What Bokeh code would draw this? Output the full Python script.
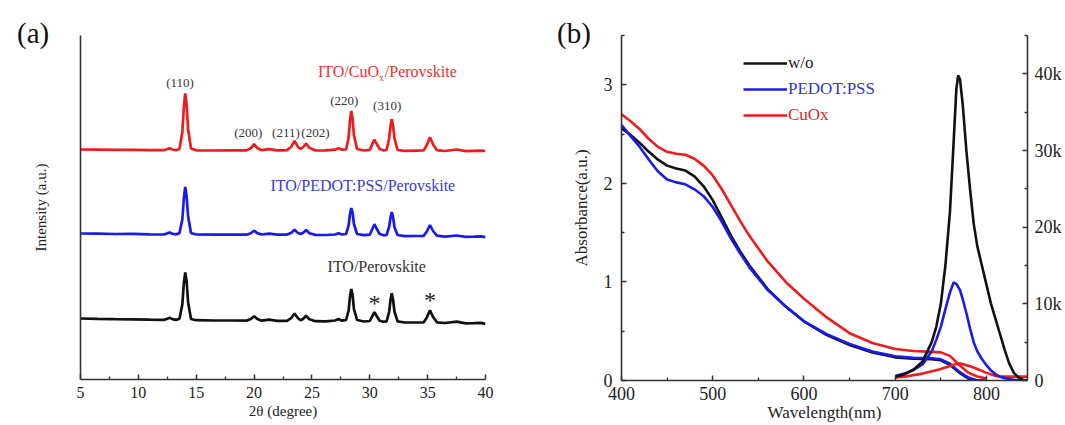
from bokeh.plotting import figure
from bokeh.models import Range1d, LinearAxis, FixedTicker, Label, Legend, LegendItem, Div
from bokeh.layouts import row
from bokeh.embed import file_html
from bokeh.resources import INLINE
from bokeh.core.properties import value

SERIF = "Liberation Serif"

# ---------------- (a) XRD data ----------------
two_theta = [5, 6.5, 8, 9.5, 11, 12.2, 12.45, 12.7, 12.95, 13.25,
             13.55, 13.8, 13.93, 14.05, 14.17, 14.3, 14.55,
             15.0, 16.5, 18, 19.35, 19.72, 20.0, 20.28, 20.65, 21.3, 22.0, 22.85,
             23.2, 23.5, 23.78, 24.02, 24.25, 24.5, 24.78, 25.3, 26.2, 27.0, 27.3, 27.6,
             27.95, 28.17, 28.29, 28.4, 28.51, 28.63, 28.9,
             29.5, 30.0, 30.22, 30.4, 30.58, 30.85, 31.2,
             31.45, 31.67, 31.79, 31.9, 32.01, 32.13, 32.4,
             33.0, 34.0, 34.65, 34.93, 35.2, 35.47, 35.8, 36.5, 37.5, 38.3, 39.0, 39.6, 40.0]

xrd_cuox = [230.0, 229.8, 229.6, 229.7, 229.4, 229.3, 230.2, 231.3, 230.0, 229.3,
            230.5, 247.0, 272.0, 286.0, 275.0, 250.0, 231.0,
            229.2, 229.0, 229.2, 229.1, 231.3, 235.3, 231.5, 229.3, 230.3, 229.2, 229.4,
            232.5, 238.5, 232.8, 230.5, 232.5, 236.0, 231.8, 229.0, 229.2, 229.8, 231.2, 229.8,
            230.0, 242.0, 259.0, 268.5, 261.0, 244.0, 230.5,
            229.0, 229.6, 235.5, 240.0, 236.0, 230.5, 229.0,
            229.5, 241.0, 253.5, 260.5, 254.0, 241.5, 229.5,
            228.7, 228.9, 229.0, 234.5, 242.3, 235.0, 229.3, 228.5, 230.0, 228.4, 228.7, 228.9, 228.5]

xrd_pedot = [146.0, 145.8, 145.5, 145.6, 145.2, 145.0, 145.9, 147.0, 145.8, 145.1,
             146.2, 160.0, 181.0, 192.5, 183.0, 163.0, 146.5,
             145.0, 144.8, 144.9, 144.8, 146.3, 148.8, 146.4, 145.0, 145.8, 144.8, 144.9,
             146.5, 149.8, 146.6, 145.5, 146.8, 149.5, 146.2, 144.6, 144.5, 145.0, 146.2, 145.0,
             145.5, 154.0, 165.5, 171.5, 167.0, 155.5, 145.5,
             144.3, 144.8, 150.5, 155.3, 151.0, 145.5, 144.2,
             144.5, 152.5, 162.0, 167.5, 162.5, 152.5, 144.5,
             143.3, 143.5, 143.6, 148.0, 154.5, 148.5, 143.8, 142.9, 144.0, 142.6, 142.8, 143.2, 142.3]

xrd_ref = [61.0, 60.6, 60.3, 60.1, 59.8, 59.6, 60.5, 61.8, 60.4, 59.6,
           60.8, 75.0, 96.0, 107.0, 98.5, 77.0, 60.5,
           59.3, 59.0, 59.0, 58.8, 60.5, 63.3, 60.6, 58.8, 59.8, 58.6, 58.7,
           61.3, 66.0, 61.5, 59.3, 60.8, 63.8, 60.2, 58.3, 58.2, 59.0, 60.4, 58.8,
           59.5, 69.0, 83.0, 90.5, 85.0, 70.5, 59.5,
           58.0, 58.5, 63.5, 67.3, 63.8, 58.8, 57.8,
           58.0, 67.5, 79.5, 86.3, 80.0, 68.0, 58.2,
           57.0, 57.0, 57.0, 62.0, 69.3, 62.5, 57.2, 56.5, 57.8, 56.2, 56.3, 56.6, 55.6]

hkl_labels = ["(110)", "(200)", "(211)", "(202)", "(220)", "(310)"]
hkl_x = [13.6, 19.5, 22.75, 25.3, 27.8, 31.5]
hkl_y = [297, 247, 247, 247, 279, 274]
impurity_x = [30.4, 35.2]
impurity_y = [77, 80]
xtick_a = [5, 10, 15, 20, 25, 30, 35, 40]
xminor_a = [7.5, 12.5, 17.5, 22.5, 27.5, 32.5, 37.5]

# ---------------- (b) absorbance / PL data ----------------
wl_abs = [400, 410, 420, 430, 440, 450, 460, 470, 480, 490, 500, 510, 520, 530, 540,
          560, 580, 600, 625, 650, 675, 700, 720, 740, 750, 760, 770, 780, 790, 800]
abs_wo = [2.56, 2.49, 2.41, 2.32, 2.24, 2.18, 2.15, 2.13, 2.07, 1.97, 1.83, 1.65, 1.47, 1.31, 1.17,
          0.93, 0.75, 0.60, 0.46, 0.36, 0.285, 0.235, 0.22, 0.215, 0.205, 0.16, 0.08, 0.02, 0.0, 0.0]
abs_pedot = [2.59, 2.48, 2.37, 2.24, 2.12, 2.04, 2.01, 1.99, 1.94, 1.87, 1.76, 1.61, 1.44, 1.29, 1.15,
             0.92, 0.75, 0.60, 0.47, 0.37, 0.295, 0.245, 0.23, 0.225, 0.215, 0.17, 0.09, 0.03, 0.0, 0.0]
abs_cuox = [2.70, 2.63, 2.55, 2.45, 2.37, 2.32, 2.30, 2.29, 2.25, 2.18, 2.08, 1.94, 1.78, 1.62, 1.47,
            1.21, 1.00, 0.83, 0.64, 0.48, 0.38, 0.32, 0.30, 0.29, 0.285, 0.25, 0.16, 0.08, 0.04, 0.02]

wl_pl = [700, 710, 720, 730, 740, 745, 750, 755, 760, 764, 767, 769, 771, 774, 778,
         782, 786, 790, 795, 800, 805, 810, 815, 820, 825, 830, 835, 840, 845]
pl_wo = [500, 800, 1400, 2500, 5000, 7000, 10000, 15000, 22000, 31000, 38000, 39800, 39300, 36000, 30000,
         25000, 20500, 17500, 15000, 12500, 10000, 8000, 6000, 4000, 2200, 1000, 400, 100, 0]
pl_pedot = [600, 900, 1400, 2100, 3800, 5300, 7000, 9300, 11500, 12800, 12600, 12200, 11800, 10600, 8800,
            6800, 5000, 3800, 2800, 2000, 1300, 800, 500, 300, 200, 100, 50, 0, 0]
pl_cuox = [400, 500, 700, 900, 1200, 1350, 1500, 1700, 1900, 2050, 2150, 2200, 2200, 2150, 2000,
           1850, 1700, 1500, 1250, 1000, 800, 600, 500, 500, 500, 500, 500, 500, 500]

series_names = ["w/o", "PEDOT:PSS", "CuOx"]
xtick_b = [400, 500, 600, 700, 800]
xminor_b = [450, 550, 650, 750, 850]
ytick_b = [0, 1, 2, 3]
yminor_b = [0.5, 1.5, 2.5, 3.5]
ytick_pl = [0, 10000, 20000, 30000, 40000]
yminor_pl = [5000, 15000, 25000, 35000, 45000]
pl_tick_text = {0: "0", 10000: "10k", 20000: "20k", 30000: "30k", 40000: "40k"}

BLACK = "#111111"
BLUE = "#1a1aee"
RED = "#ee1c1c"
AXC = "#333333"


def style_axis(ax, size):
    ax.axis_line_color = AXC
    ax.axis_line_width = 1.6
    ax.major_tick_in = 5
    ax.major_tick_out = 0
    ax.minor_tick_in = 3
    ax.minor_tick_out = 0
    ax.major_tick_line_color = AXC
    ax.major_tick_line_width = 1.5
    ax.minor_tick_line_color = AXC
    ax.minor_tick_line_width = 1.3
    ax.major_label_text_font = SERIF
    ax.major_label_text_font_size = size
    ax.major_label_text_color = "#222222"
    ax.axis_label_text_font = SERIF
    ax.axis_label_text_font_style = "normal"
    ax.axis_label_text_color = "#222222"


# ---------------- figure (a) ----------------
p1 = figure(frame_width=405, frame_height=344, min_border_left=80, min_border_right=55,
            min_border_top=32, min_border_bottom=49,
            x_range=Range1d(5, 40), y_range=Range1d(0, 344),
            output_backend="svg", toolbar_location=None)
p1.outline_line_color = None
p1.grid.visible = False

p1.line(two_theta, xrd_cuox, line_color=RED, line_width=2.7)
p1.line(two_theta, xrd_pedot, line_color=BLUE, line_width=2.7)
p1.line(two_theta, xrd_ref, line_color=BLACK, line_width=2.7)

xa = p1.xaxis[0]
style_axis(xa, "16px")
xa.ticker = FixedTicker(ticks=xtick_a, minor_ticks=xminor_a)
xa.axis_label = "2θ (degree)"
xa.axis_label_text_font_size = "15px"
xa.major_label_standoff = 7
xa.axis_label_standoff = 2

ya = p1.yaxis[0]
style_axis(ya, "0px")
ya.ticker = FixedTicker(ticks=[])
ya.axis_label = "Intensity (a.u.)"
ya.axis_label_text_font_size = "15px"
ya.major_label_standoff = 0
ya.axis_label_standoff = 32

p1.text(x=hkl_x, y=hkl_y, text=hkl_labels, text_font=value(SERIF), text_font_size="13px",
        text_align="center", text_baseline="middle", text_color="#333333")
p1.text(x=impurity_x, y=impurity_y, text=["*", "*"], text_font=value(SERIF), text_font_size="24px",
        text_align="center", text_baseline="middle", text_color="#222222")

for txt, x, y, align, size, yoff, col in [
        ("ITO/CuO", 30.8, 308, "right", "16px", 0, "#e8322c"),
        ("x", 30.8, 308, "left", "10px", -6, "#e8322c"),
        ("/Perovskite", 31.3, 308, "left", "16px", 0, "#e8322c"),
        ("ITO/PEDOT:PSS/Perovskite", 29.4, 194, "center", "16px", 0, "#3a3ad8"),
        ("ITO/Perovskite", 30.6, 113, "center", "16px", 0, "#333333")]:
    p1.add_layout(Label(x=x, y=y, text=txt, text_font=SERIF, text_font_size=size,
                        text_align=align, text_baseline="middle", y_offset=yoff, text_color=col))

# ---------------- figure (b) ----------------
p2 = figure(frame_width=406, frame_height=345, min_border_left=81, min_border_right=38,
            min_border_top=35, min_border_bottom=45,
            x_range=Range1d(400, 845), y_range=Range1d(0, 3.5),
            output_backend="svg", toolbar_location=None)
p2.outline_line_color = None
p2.grid.visible = False
p2.extra_y_ranges = {"pl": Range1d(0, 45000)}

r_wo = p2.line(wl_abs, abs_wo, line_color=BLACK, line_width=2.6)
r_pe = p2.line(wl_abs, abs_pedot, line_color=BLUE, line_width=2.6)
r_cu = p2.line(wl_abs, abs_cuox, line_color=RED, line_width=2.6)
p2.line(wl_pl, pl_cuox, line_color=RED, line_width=2.6, y_range_name="pl")
p2.line(wl_pl, pl_pedot, line_color=BLUE, line_width=2.6, y_range_name="pl")
p2.line(wl_pl, pl_wo, line_color=BLACK, line_width=2.6, y_range_name="pl")

xb = p2.xaxis[0]
style_axis(xb, "18px")
xb.ticker = FixedTicker(ticks=xtick_b, minor_ticks=xminor_b)
xb.axis_label = "Wavelength(nm)"
xb.axis_label_text_font_size = "17px"
xb.major_label_standoff = 6
xb.axis_label_standoff = 0

yb = p2.yaxis[0]
style_axis(yb, "18px")
yb.ticker = FixedTicker(ticks=ytick_b, minor_ticks=yminor_b)
yb.axis_label = "Absorbance(a.u.)"
yb.axis_label_text_font_size = "17px"
yb.major_label_standoff = 9
yb.axis_label_standoff = 10

yr = LinearAxis(y_range_name="pl")
style_axis(yr, "18px")
yr.ticker = FixedTicker(ticks=ytick_pl, minor_ticks=yminor_pl)
yr.major_label_overrides = pl_tick_text
yr.major_label_standoff = 7
p2.add_layout(yr, "right")

for i, (r, name, col) in enumerate([(r_wo, series_names[0], "#222222"),
                                     (r_pe, series_names[1], "#3535d5"),
                                     (r_cu, series_names[2], "#d42a2a")]):
    leg = Legend(items=[LegendItem(label=name, renderers=[r])], location=(122, 307 - i * 26))
    leg.glyph_width = 44
    leg.glyph_height = 20
    leg.label_height = 20
    leg.label_standoff = 1
    leg.padding = 0
    leg.margin = 0
    leg.border_line_color = None
    leg.background_fill_alpha = 0
    leg.label_text_font = SERIF
    leg.label_text_font_size = "17px"
    leg.label_text_color = col
    p2.add_layout(leg)

tag_style = {"position": "absolute", "top": "14px", "font-family": "Liberation Serif",
             "font-size": "29px", "color": "#111111", "line-height": "1"}
tag_a = Div(text="(a)", styles=dict(tag_style, left="12px"))
tag_b = Div(text="(b)", styles=dict(tag_style, left="552px"))

layout = row(p1, p2, tag_a, tag_b)
open("out.html", "w").write(file_html(layout, INLINE))
